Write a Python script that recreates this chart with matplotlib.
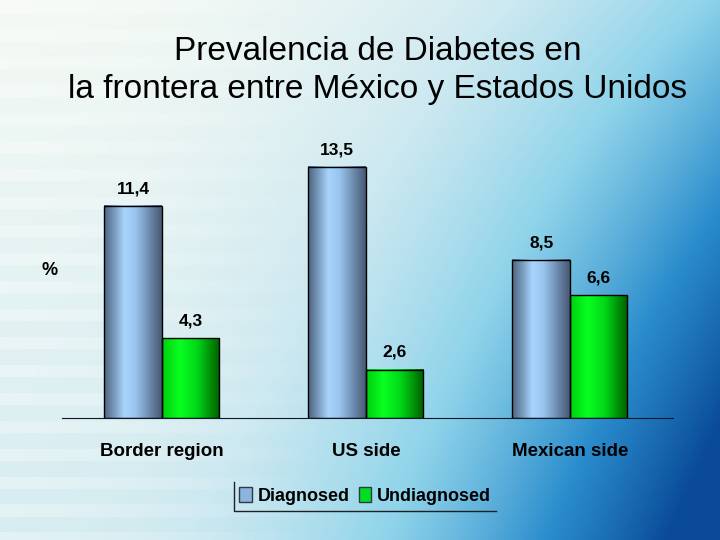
import numpy as np
import matplotlib.pyplot as plt
from matplotlib.colors import LinearSegmentedColormap
from matplotlib.patches import Patch
from matplotlib.lines import Line2D

categories = ['Border region', 'US side', 'Mexican side']
diagnosed = [11.4, 13.5, 8.5]
undiagnosed = [4.3, 2.6, 6.6]
series_names = ['Diagnosed', 'Undiagnosed']

font = 'Liberation Sans'

fig = plt.figure(figsize=(7.2, 5.4), dpi=100)

# background gradient
bg = fig.add_axes([0, 0, 1, 1], zorder=-10)
W, H = 720, 540
xn, yn = np.meshgrid(np.linspace(0, 1, W), np.linspace(0, 1, H))
s = np.clip(xn ** 2.2 * (0.42 + 0.58 * yn) + 0.15 * yn, 0, 1)
bg_cmap = LinearSegmentedColormap.from_list('bg', [
    (0.0, '#f4f9f4'), (0.2, '#cce8f0'), (0.4, '#90d4ea'),
    (0.7, '#2a8ccc'), (1.0, '#0a4a98')])
img = bg_cmap(s)[..., :3]
stripes = (np.sin(yn * H / 28 * 2 * np.pi) > 0.2) * np.clip(1 - xn / 0.45, 0, 1) * 0.3
img = img + (1 - img) * stripes[..., None]
bg.imshow(img, aspect='auto', extent=[0, 1, 0, 1])
bg.axis('off')

ax = fig.add_axes([0.0861, 0.2259, 0.8486, 0.5167])
ax.patch.set_alpha(0)

x = np.arange(len(categories))
w = 0.282
b1 = ax.bar(x - w / 2, diagnosed, w, facecolor='none', edgecolor='black', linewidth=1, zorder=3)
b2 = ax.bar(x + w / 2, undiagnosed, w, facecolor='none', edgecolor='black', linewidth=1, zorder=3)

def shade(stops):
    cm = LinearSegmentedColormap.from_list('g', stops)
    return cm(np.linspace(0, 1, 64))[None, :, :3]

blue_grad = shade([(0, '#4c6480'), (0.35, '#a8d4fc'), (0.55, '#98c4ee'), (1, '#485a76')])
green_grad = shade([(0, '#00d010'), (0.3, '#08ff20'), (0.6, '#00d818'), (1, '#006000')])

for bars, grad in [(b1, blue_grad), (b2, green_grad)]:
    for r in bars:
        ax.imshow(grad, extent=[r.get_x(), r.get_x() + r.get_width(), 0, r.get_height()],
                  aspect='auto', zorder=2)

for bars, vals in [(b1, diagnosed), (b2, undiagnosed)]:
    for r, v in zip(bars, vals):
        ax.annotate(f'{v:.1f}'.replace('.', ','), (r.get_x() + r.get_width() / 2, v),
                    xytext=(0, 7), textcoords='offset points', ha='center', va='bottom',
                    fontsize=12.5, fontweight='bold', family=font)

ax.set_xlim(-0.49, 2.505)
ax.set_ylim(0, 15)
for sp in ['top', 'right', 'left']:
    ax.spines[sp].set_visible(False)
ax.spines['bottom'].set_color('#101828')
ax.set_yticks([])
ax.set_xticks(x)
ax.set_xticklabels(categories, fontsize=13.5, fontweight='bold', family=font)
ax.tick_params(axis='x', length=0, pad=18)
ax.set_ylabel('%', rotation=0, fontsize=13, fontweight='bold', family=font, va='center')
ax.yaxis.set_label_coords(-0.02, 0.53)

fig.text(0.525, 0.870, 'Prevalencia de Diabetes en\nla frontera entre México y Estados Unidos',
         ha='center', va='center', fontsize=24, family=font, linespacing=1.3)

handles = [Patch(facecolor='#8cb4dc', edgecolor='#303848'),
           Patch(facecolor='#00e020', edgecolor='#303848')]
leg = fig.legend(handles, series_names, loc='center', bbox_to_anchor=(0.507, 0.081),
                 frameon=False, ncol=2, handlelength=0.7, handleheight=0.9,
                 handletextpad=0.3, columnspacing=0.5, borderpad=0.3,
                 prop={'family': font, 'weight': 'bold', 'size': 13})

fig.canvas.draw()
bb = leg.get_window_extent().transformed(fig.transFigure.inverted())
fig.add_artist(Line2D([bb.x0, bb.x0, bb.x1], [bb.y1, bb.y0, bb.y0],
                      transform=fig.transFigure, color='#202020', linewidth=1))

fig.savefig('out.png', dpi=100)
